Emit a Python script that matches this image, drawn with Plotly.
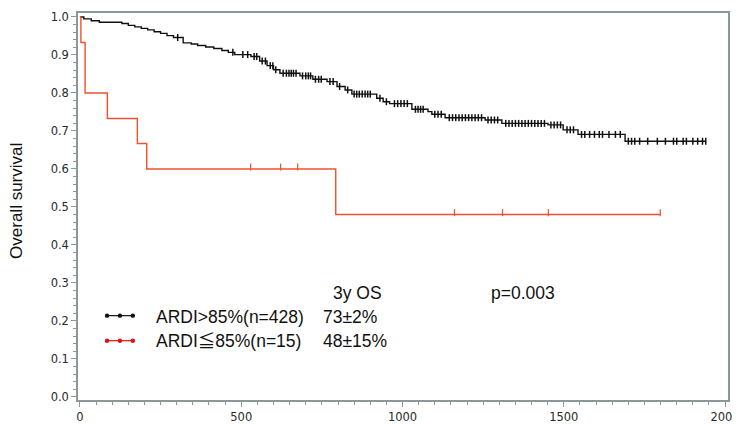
import plotly.graph_objects as go
import numpy as np

# ---- data ----
hi_times = [0, 12, 35, 60, 130, 150, 170, 190, 210, 230, 250, 270, 290, 320, 345, 365, 390, 415,
            440, 460, 480, 530, 557, 580, 600, 620, 682, 722, 766, 797, 822, 843, 920, 940, 960,
            1029, 1079, 1091, 1132, 1256, 1308, 1451, 1498, 1544, 1690]
hi_surv = [1.0, 0.995, 0.990, 0.986, 0.983, 0.978, 0.974, 0.970, 0.966, 0.961, 0.957, 0.951, 0.946,
           0.932, 0.929, 0.925, 0.921, 0.917, 0.912, 0.907, 0.901, 0.896, 0.884, 0.872, 0.861, 0.852,
           0.845, 0.836, 0.830, 0.817, 0.808, 0.797, 0.786, 0.777, 0.772, 0.757, 0.751, 0.744, 0.735,
           0.729, 0.720, 0.716, 0.703, 0.691, 0.673]
hi_end = 1940
hi_censor = [303, 474, 505, 520, 540, 548, 565, 575, 590, 598, 607, 630, 640, 648, 655, 662, 670,
             690, 700, 708, 715, 730, 740, 748, 775, 785, 805, 830, 850, 858, 866, 875, 884, 892,
             900, 930, 950, 975, 985, 995, 1005, 1015, 1040, 1048, 1056, 1064, 1100, 1110, 1120,
             1145, 1155, 1165, 1175, 1185, 1195, 1205, 1215, 1225, 1235, 1245, 1265, 1275, 1285,
             1295, 1320, 1330, 1340, 1350, 1360, 1370, 1380, 1390, 1400, 1410, 1420, 1430, 1440,
             1460, 1470, 1480, 1490, 1510, 1520, 1530, 1555, 1565, 1580, 1595, 1610, 1620, 1640,
             1660, 1675, 1700, 1710, 1720, 1735, 1760, 1790, 1815, 1840, 1850, 1870, 1880, 1900,
             1915, 1930, 1940]

lo_times = [0, 3, 16, 85, 178, 207, 793]
lo_surv = [1.0, 0.933, 0.8, 0.733, 0.667, 0.6, 0.48]
lo_end = 1799
lo_censor = [529, 622, 675, 1161, 1310, 1452, 1799]

series_names = ["ARDI>85%(n=428)", "ARDI\u226685%(n=15)"]
os3y = ["73\u00b12%", "48\u00b115%"]
p_text = "p=0.003"

x_ticks = [0, 500, 1000, 1500, 2000]
y_ticks = [0.0, 0.1, 0.2, 0.3, 0.4, 0.5, 0.6, 0.7, 0.8, 0.9, 1.0]

BLACK = "#111111"
RED = "#f0502d"
AXIS = "#8a9898"
TXT = "#2a2a2a"


def step_at(times, surv, t):
    idx = np.searchsorted(np.array(times), np.array(t), side="right") - 1
    return [surv[i] for i in idx]


fig = go.Figure()
# black curve
fig.add_trace(go.Scatter(x=hi_times + [hi_end], y=hi_surv + [hi_surv[-1]], mode="lines",
                         line=dict(color=BLACK, width=1.4, shape="hv"), showlegend=False))
fig.add_trace(go.Scatter(x=hi_censor, y=step_at(hi_times, hi_surv, hi_censor), mode="markers",
                         marker=dict(symbol="line-ns", size=5, line=dict(color=BLACK, width=1.5)),
                         showlegend=False))
# red curve
fig.add_trace(go.Scatter(x=lo_times + [lo_end], y=lo_surv + [lo_surv[-1]], mode="lines",
                         line=dict(color=RED, width=1.4, shape="hv"), showlegend=False))
fig.add_trace(go.Scatter(x=lo_censor, y=[v + 0.005 for v in step_at(lo_times, lo_surv, lo_censor)],
                         mode="markers",
                         marker=dict(symbol="line-ns", size=5, line=dict(color=RED, width=1.2)),
                         showlegend=False))

TF = dict(family="Liberation Sans, Arial, Noto Sans CJK JP, sans-serif", size=17.5, color="#111111")

annotations = [
    dict(text="3y OS", x=777, y=0.2745, xref="x", yref="y", xanchor="left", yanchor="middle",
         showarrow=False, font=TF),
    dict(text=p_text, x=1268, y=0.2745, xref="x", yref="y", xanchor="left", yanchor="middle",
         showarrow=False, font=TF),
    dict(text=series_names[0], x=229, y=0.211, xref="x", yref="y", xanchor="left", yanchor="middle",
         showarrow=False, font=TF),
    dict(text=os3y[0], x=746, y=0.211, xref="x", yref="y", xanchor="left", yanchor="middle",
         showarrow=False, font=TF),
    dict(text=series_names[1], x=229, y=0.147, xref="x", yref="y", xanchor="left", yanchor="middle",
         showarrow=False, font=TF),
    dict(text=os3y[1], x=746, y=0.147, xref="x", yref="y", xanchor="left", yanchor="middle",
         showarrow=False, font=TF),
    dict(text="Overall survival", x=-0.095, y=0.515, xref="paper", yref="paper", textangle=-90,
         xanchor="center", yanchor="middle", showarrow=False,
         font=dict(family="Liberation Sans, Arial, sans-serif", size=17, color="#111111")),
]

shapes = []
for yy, col in [(0.214, BLACK), (0.148, "#e01010")]:
    shapes.append(dict(type="line", xref="x", yref="y", x0=84, x1=164, y0=yy, y1=yy,
                       line=dict(color=col, width=1.2)))
    for xx in [84, 124, 164]:
        shapes.append(dict(type="circle", xref="x", yref="y", xsizemode="pixel", ysizemode="pixel",
                           xanchor=xx, yanchor=yy, x0=-2.2, x1=2.2, y0=-2.2, y1=2.2,
                           fillcolor=col, line=dict(color=col, width=0)))

fig.update_layout(
    width=740, height=424,
    margin=dict(l=70, r=20, t=5, b=32),
    paper_bgcolor="white", plot_bgcolor="white",
    annotations=annotations, shapes=shapes,
    xaxis=dict(range=[-6, 2009], tickvals=x_ticks, ticktext=[str(v) for v in x_ticks],
               automargin=False,
               showgrid=False, zeroline=False, showline=True, linecolor=AXIS, linewidth=1.5,
               mirror=True, ticks="outside", ticklen=5, tickwidth=1, tickcolor=AXIS,
               minor=dict(dtick=50, tick0=0, ticks="outside", ticklen=3, tickcolor=AXIS),
               tickfont=dict(family="DejaVu Sans", size=11.5, color=TXT)),
    yaxis=dict(range=[-0.008, 1.0105], tickvals=y_ticks, ticktext=[f"{v:.1f}" for v in y_ticks],
               automargin=False,
               showgrid=False, zeroline=False, showline=True, linecolor=AXIS, linewidth=1.5,
               mirror=True, ticks="outside", ticklen=5, tickwidth=1, tickcolor=AXIS,
               minor=dict(dtick=0.02, tick0=0, ticks="outside", ticklen=3, tickcolor=AXIS),
               tickfont=dict(family="DejaVu Sans", size=11.5, color=TXT)),
)

fig.write_html("out.html")
